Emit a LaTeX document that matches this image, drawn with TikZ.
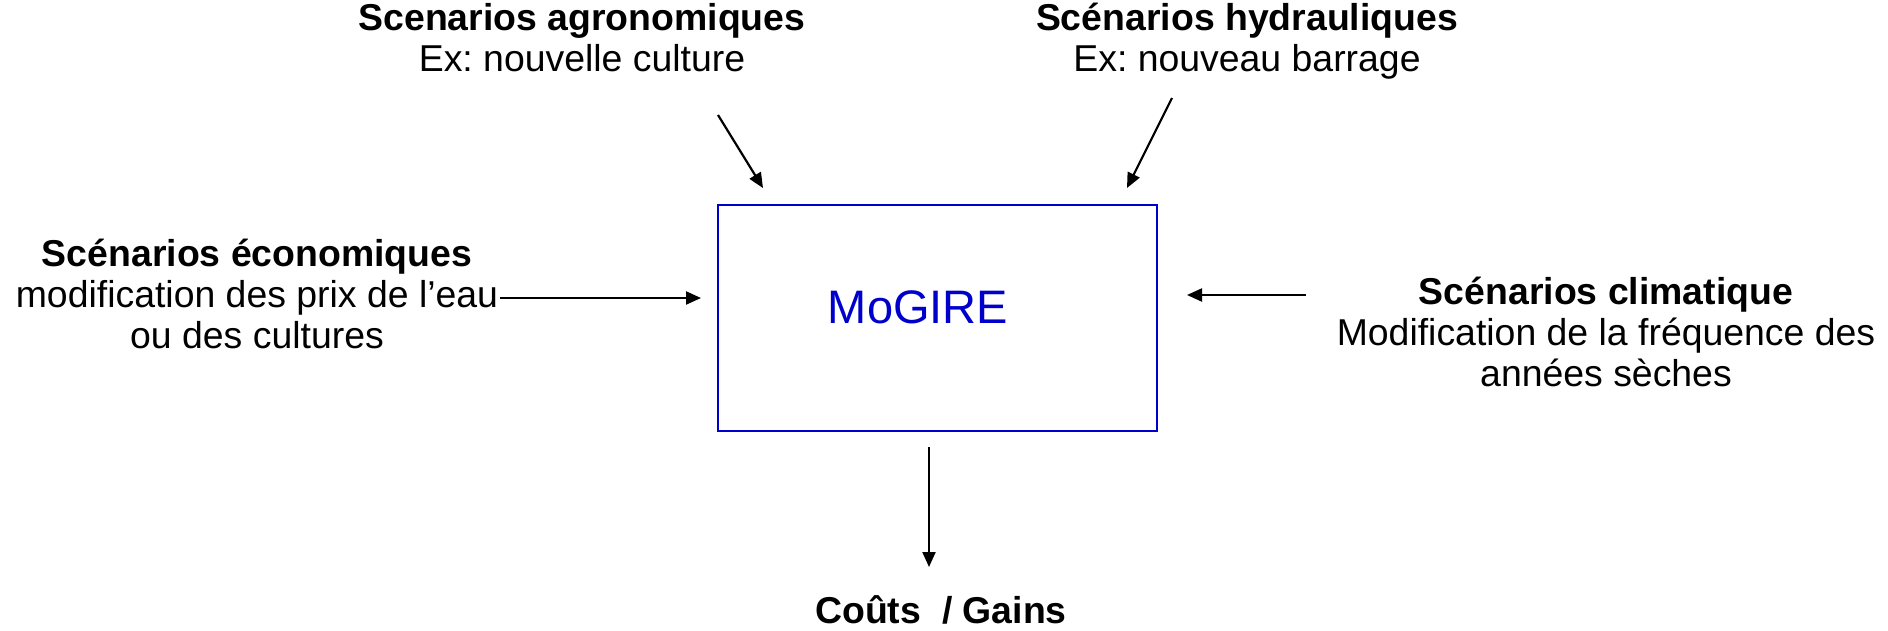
\documentclass[tikz,border=0pt]{standalone}
\usepackage{fontspec}
\setmainfont{Liberation Sans}
\usetikzlibrary{arrows.meta}
\definecolor{mogblue}{RGB}{0,0,204}
\frenchspacing

\begin{document}
\begin{tikzpicture}[x=0.5pt,y=-0.5pt]
\useasboundingbox (0,0) rectangle (1888,631);
% anchor=base sits on the last line
\begin{scope}[every node/.style={align=center,inner sep=0pt,anchor=base,
              font=\fontsize{18.7}{20.5}\selectfont}]
    \node (agro) at (582,72) {\textbf{Scenarios agronomiques}\\Ex: nouvelle culture};
    \node (hydro) at (1247,72) {\textbf{Scénarios hydrauliques}\\Ex: nouveau barrage};
    \node (eco) at (257,348) {\textbf{Scénarios économiques}\\modification des prix de l’eau\\ou des cultures};
    \node (clim) at (1606,386) {\textbf{Scénarios climatique}\\Modification de la fréquence des\\années sèches};
    \node (gain) at (941,623) {\textbf{Coûts\ \ / Gains}};
\end{scope}

\node[draw=mogblue,line width=0.7pt,minimum width=219.5pt,minimum height=113pt] (M) at (937.5,318) {};
\node[anchor=base,text=mogblue,inner sep=0pt,font=\fontsize{23.5}{26}\selectfont] (mogire) at (918,323) {MoGIRE};

% free ends of the arrows
\coordinate (agroS) at (718,115);  \coordinate (agroE) at (763,188);
\coordinate (hydroS) at (1172,98); \coordinate (hydroE) at (1127,188);
\coordinate (ecoS) at (500,298);   \coordinate (ecoE) at (701,298);
\coordinate (climS) at (1306,295); \coordinate (climE) at (1187,295);
\coordinate (outS) at (929,447);   \coordinate (outE) at (929,567);

\begin{scope}[>={Triangle[length=7.5pt,width=6.5pt]},line width=1.1pt]
    \draw [->] (agroS) -- (agroE);
    \draw [->] (hydroS) -- (hydroE);
    \draw [->] (ecoS) -- (ecoE);
    \draw [->] (climS) -- (climE);
    \draw [->] (outS) -- (outE);
\end{scope}
\end{tikzpicture}
\end{document}
